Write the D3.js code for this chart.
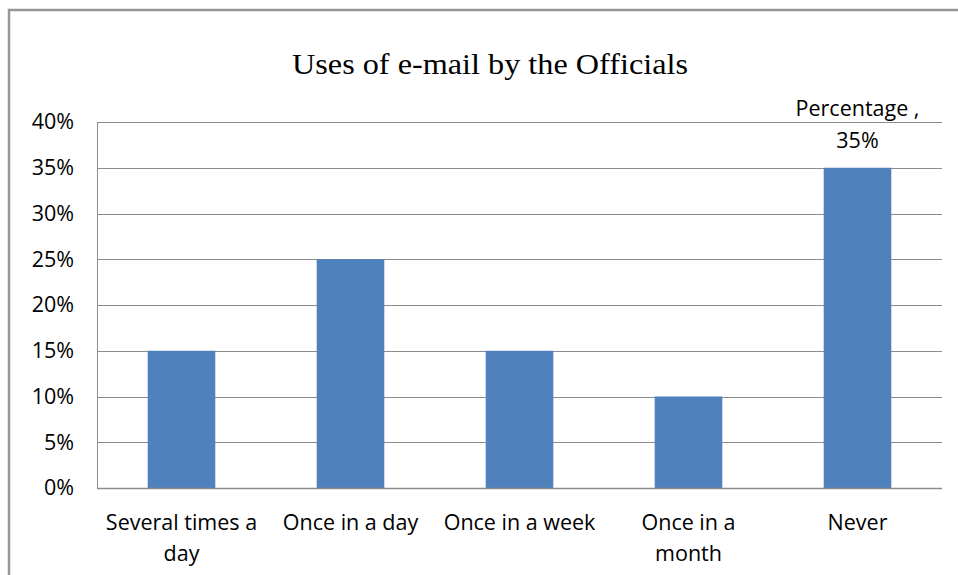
<!DOCTYPE html>
<html>
<head>
<meta charset="utf-8">
<script src="https://cdn.jsdelivr.net/npm/d3@7"></script>
<style>
  html, body { margin: 0; padding: 0; background: #fff; }
  svg { display: block; }
</style>
</head>
<body>
<svg id="chart" width="958" height="575"></svg>
<script>
// Frequency of e-mail use among officials
const categories = [
  ["Several times a", "day"],
  ["Once in a day"],
  ["Once in a week"],
  ["Once in a", "month"],
  ["Never"]
];
const percentages = [0.15, 0.25, 0.15, 0.10, 0.35];
const yTicks = [0, 0.05, 0.10, 0.15, 0.20, 0.25, 0.30, 0.35, 0.40];
const title = "Uses of e-mail by the Officials";
const seriesName = "Percentage";

const svg = d3.select("#chart");
const W = 958, H = 575;
const margin = { top: 122, right: 16, bottom: 87, left: 97 };
const labelFont = "'Open Sans', 'Noto Sans', sans-serif";
const labelSize = 21.5;

// chart frame
svg.append("path")
  .attr("d", `M9,${H + 5} V10 H${W + 5}`)
  .attr("fill", "none")
  .attr("stroke", "#969696")
  .attr("stroke-width", 2.5);

const x = d3.scaleBand()
  .domain(d3.range(categories.length))
  .range([margin.left, W - margin.right])
  .paddingInner(0.6)
  .paddingOuter(0.3);

const y = d3.scaleLinear()
  .domain([0, 0.40])
  .range([H - margin.bottom, margin.top]);

// horizontal gridlines
svg.append("g")
  .selectAll("line")
  .data(yTicks)
  .join("line")
  .attr("x1", margin.left)
  .attr("x2", W - margin.right)
  .attr("y1", d => Math.round(y(d)) + 0.5)
  .attr("y2", d => Math.round(y(d)) + 0.5)
  .attr("stroke", "#8c8c8c")
  .attr("stroke-width", 1);

// left edge of plot area
svg.append("line")
  .attr("x1", margin.left + 0.5).attr("x2", margin.left + 0.5)
  .attr("y1", y(0.40)).attr("y2", y(0))
  .attr("stroke", "#8c8c8c");

// y axis labels
const yAxis = d3.axisLeft(y)
  .tickValues(yTicks)
  .tickFormat(d3.format(".0%"))
  .tickSize(0)
  .tickPadding(23);
const gy = svg.append("g")
  .attr("transform", `translate(${margin.left},0)`)
  .call(yAxis);
gy.select(".domain").remove();
gy.selectAll("text")
  .attr("font-family", labelFont)
  .attr("font-size", labelSize)
  .attr("fill", "#000");

// bars
svg.append("g")
  .selectAll("rect")
  .data(percentages)
  .join("rect")
  .attr("x", (d, i) => x(i))
  .attr("width", x.bandwidth())
  .attr("y", d => y(d))
  .attr("height", d => y(0) - y(d))
  .attr("fill", "#4f81bd");

// x axis baseline
svg.append("line")
  .attr("x1", margin.left).attr("x2", W - margin.right)
  .attr("y1", Math.round(y(0)) + 0.5).attr("y2", Math.round(y(0)) + 0.5)
  .attr("stroke", "#8c8c8c")
  .attr("stroke-width", 1.5);

// category labels
const xAxis = d3.axisBottom(x)
  .tickSize(0)
  .tickFormat(() => "");
const gx = svg.append("g")
  .attr("transform", `translate(0,${y(0)})`)
  .call(xAxis);
gx.select(".domain").remove();
gx.selectAll(".tick").each(function (d) {
  const t = d3.select(this).append("text")
    .attr("text-anchor", "middle")
    .attr("font-family", labelFont)
    .attr("font-size", labelSize)
    .attr("fill", "#000");
  categories[d].forEach((line, k) => {
    t.append("tspan")
      .attr("x", 0)
      .attr("y", 42 + k * 31)
      .text(line);
  });
});

// data label on the largest bar
const iMax = d3.maxIndex(percentages);
const lbl = svg.append("text")
  .attr("text-anchor", "middle")
  .attr("font-family", labelFont)
  .attr("font-size", labelSize)
  .attr("fill", "#000");
lbl.append("tspan")
  .attr("x", x(iMax) + x.bandwidth() / 2)
  .attr("y", y(percentages[iMax]) - 52)
  .text(`${seriesName} ,`);
lbl.append("tspan")
  .attr("x", x(iMax) + x.bandwidth() / 2)
  .attr("y", y(percentages[iMax]) - 20)
  .text(d3.format(".0%")(percentages[iMax]));

// title
svg.append("text")
  .attr("x", 490)
  .attr("y", 74)
  .attr("text-anchor", "middle")
  .attr("font-family", "'Liberation Serif', 'Times New Roman', serif")
  .attr("font-size", 29)
  .attr("textLength", 396)
  .attr("lengthAdjust", "spacingAndGlyphs")
  .attr("fill", "#000")
  .text(title);
</script>
</body>
</html>
